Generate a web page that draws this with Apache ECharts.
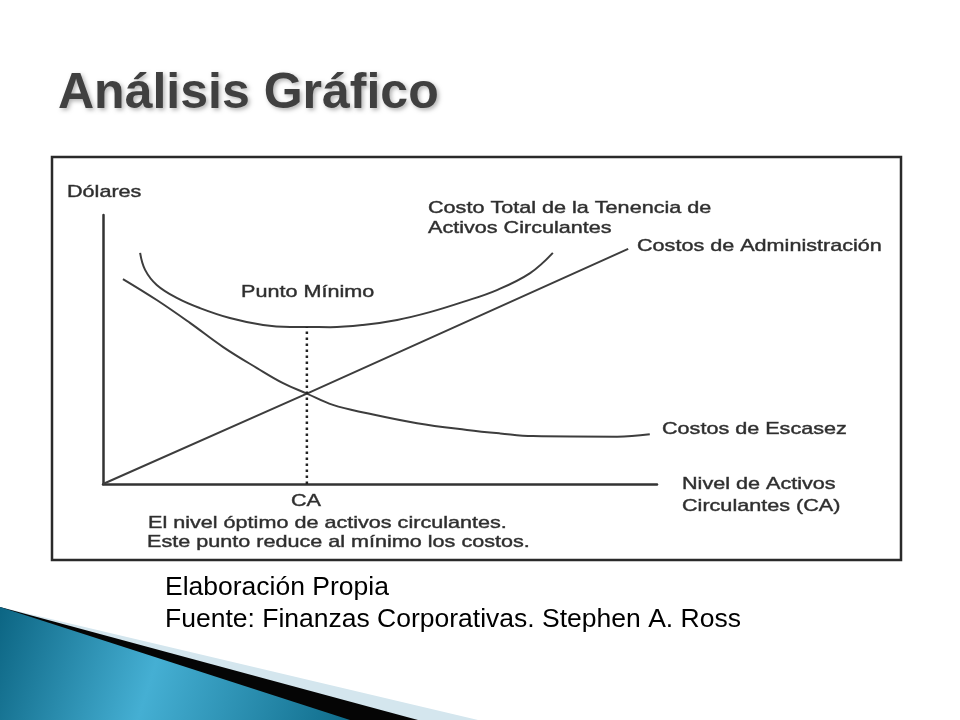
<!DOCTYPE html>
<html><head><meta charset="utf-8">
<script src="https://cdn.jsdelivr.net/npm/echarts@6/dist/echarts.min.js"></script>
<style>html,body{margin:0;padding:0;background:#fff}#c{width:960px;height:720px}</style>
</head><body><div id="c"></div>
<script>
// ---- data (arbitrary units: x = nivel de activos, y = dólares) ----
const totalX = [6.7, 7.6, 9.7, 13.4, 17.5, 22.9, 28.9, 33.8, 36.8, 41.0, 46.9, 53.1, 59.0, 65.0, 71.1, 77.1, 81.2];
const totalY = [85.9, 79.6, 74.0, 69.1, 65.4, 61.7, 59.1, 58.4, 58.4, 58.3, 59.1, 61.0, 63.9, 67.7, 72.1, 78.4, 85.9];
const adminX = [0, 36.8, 94.8];
const adminY = [0, 33.6, 87.4];
const escasezX = [3.6, 9.7, 15.7, 21.7, 27.8, 32.5, 36.8, 41.5, 47.7, 56.7, 65.7, 71.7, 77.6, 92.8, 98.7];
const escasezY = [76.2, 68.4, 59.9, 50.9, 43.1, 37.5, 33.6, 29.4, 26.3, 22.6, 20.1, 18.8, 17.8, 17.6, 18.5];
const caX = [36.8, 36.8];
const caY = [0, 58.4];

const titleText = 'Análisis Gráfico';
const yAxisName = 'Dólares';
const totalLabel = ['Costo Total de la Tenencia de', 'Activos Circulantes'];
const adminLabel = 'Costos de Administración';
const minLabel = 'Punto Mínimo';
const escasezLabel = 'Costos de Escasez';
const xAxisName = ['Nivel de Activos', 'Circulantes (CA)'];
const caLabel = 'CA';
const noteLines = ['El nivel óptimo de activos circulantes.', 'Este punto reduce al mínimo los costos.'];
const footerLines = ['Elaboración Propia', 'Fuente: Finanzas Corporativas. Stephen A. Ross'];

const zip = (xs, ys) => xs.map((x, i) => [x, ys[i]]);
const FONT = '"Liberation Sans", Arial, sans-serif';
const INK = '#2e2e2e';
const LINE = '#3d3d3d';

function chartText(text, x, y, align) {
  return {
    type: 'text', x: x, y: y, scaleX: 1.27, scaleY: 1, z: 10,
    style: {
      text: text, x: 0, y: 0, fill: INK, stroke: '#5a5a5a', lineWidth: 0.5,
      fontSize: 17, fontFamily: FONT,
      textAlign: align || 'left', align: align || 'left',
      textVerticalAlign: 'middle', verticalAlign: 'middle'
    }
  };
}
function plainText(text, x, y, size, color) {
  return {
    type: 'text', x: x, y: y, z: 10,
    style: {
      text: text, x: 0, y: 0, fill: color,
      fontSize: size, fontFamily: FONT,
      textAlign: 'left', align: 'left',
      textVerticalAlign: 'middle', verticalAlign: 'middle'
    }
  };
}

const chart = echarts.init(document.getElementById('c'), null, {renderer: 'canvas'});
chart.setOption({
  backgroundColor: '#ffffff',
  animation: false,
  title: {
    text: titleText, left: 53, top: 64,
    textStyle: {
      fontFamily: FONT, fontSize: 50, fontWeight: 'bold', color: '#404040',
      textShadowColor: 'rgba(0,0,0,0.3)', textShadowBlur: 4,
      textShadowOffsetX: 2, textShadowOffsetY: 2
    }
  },
  grid: {left: 103, top: 215, width: 554, height: 269, containLabel: false},
  xAxis: {
    type: 'value', min: 0, max: 100,
    axisLine: {show: true, onZero: false, lineStyle: {color: '#333', width: 2.5}},
    axisTick: {show: false}, axisLabel: {show: false}, splitLine: {show: false}
  },
  yAxis: {
    type: 'value', min: 0, max: 100,
    axisLine: {show: true, onZero: false, lineStyle: {color: '#333', width: 2.5}},
    axisTick: {show: false}, axisLabel: {show: false}, splitLine: {show: false}
  },
  series: [
    {name: 'Costo Total', type: 'line', data: zip(totalX, totalY), smooth: 0.4,
     symbol: 'none', lineStyle: {color: LINE, width: 2}},
    {name: 'Costos de Administración', type: 'line', data: zip(adminX, adminY),
     symbol: 'none', lineStyle: {color: LINE, width: 2}},
    {name: 'Costos de Escasez', type: 'line', data: zip(escasezX, escasezY), smooth: 0.4,
     symbol: 'none', lineStyle: {color: LINE, width: 2}},
    {name: 'CA', type: 'line', data: zip(caX, caY),
     symbol: 'none', lineStyle: {color: '#222', width: 2.5, type: [2.5, 3.5]}}
  ],
  graphic: [
    // decorative slide corner
    {type: 'polygon', z: 1, shape: {points: [[0, 607], [478, 720], [0, 720]]},
     style: {fill: '#d4e6ee'}},
    {type: 'polygon', z: 2, shape: {points: [[0, 607], [418, 720], [0, 720]]},
     style: {fill: '#050505'}},
    {type: 'polygon', z: 3, shape: {points: [[0, 607], [350, 720], [0, 720]]},
     style: {fill: new echarts.graphic.LinearGradient(0, 0, 1, 1, [
       {offset: 0, color: '#0c6583'}, {offset: 0.45, color: '#45afd3'}, {offset: 1, color: '#0f6c8b'}])}},
    // frame around the figure
    {type: 'rect', z: 5, shape: {x: 52, y: 157, width: 849, height: 403},
     style: {fill: 'none', stroke: '#2a2a2a', lineWidth: 2.5}},
    chartText(yAxisName, 67, 192),
    chartText(totalLabel[0], 428, 208),
    chartText(totalLabel[1], 428, 228),
    chartText(adminLabel, 637, 246),
    chartText(minLabel, 241, 292),
    chartText(escasezLabel, 662, 429),
    chartText(xAxisName[0], 682, 484),
    chartText(xAxisName[1], 682, 506),
    chartText(caLabel, 306, 501, 'center'),
    chartText(noteLines[0], 148, 523),
    chartText(noteLines[1], 147, 542),
    plainText(footerLines[0], 165, 588, 26.5, '#000'),
    plainText(footerLines[1], 165, 620, 26.5, '#000')
  ]
});
</script>
</body></html>
